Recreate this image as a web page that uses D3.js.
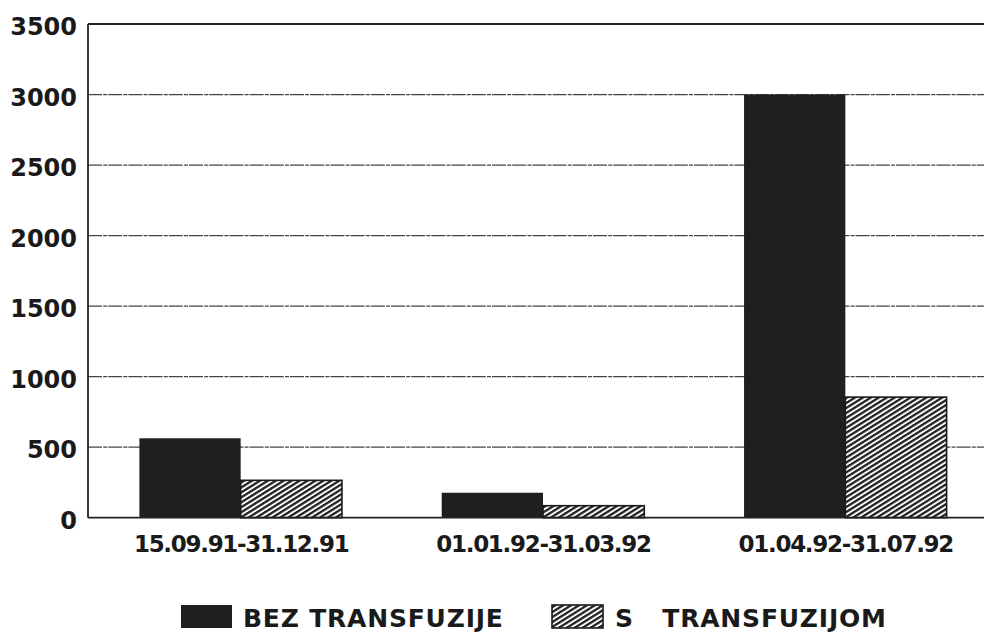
<!DOCTYPE html>
<html>
<head>
<meta charset="utf-8">
<script src="https://cdn.jsdelivr.net/npm/d3@7"></script>
<style>
  html, body { margin: 0; padding: 0; background: #fff; }
  svg { display: block; }
  text { font-family: "DejaVu Sans", "Liberation Sans", sans-serif; font-weight: bold; fill: #1a1a1a; }
</style>
</head>
<body>
<svg id="chart" width="984" height="633"></svg>
<script>
// ---- data ----
const categories = ["15.09.91-31.12.91", "01.01.92-31.03.92", "01.04.92-31.07.92"];
const seriesNames = ["BEZ TRANSFUZIJE", "S   TRANSFUZIJOM"];
const bezTransfuzije = [563, 177, 3000];
const sTransfuzijom = [265, 85, 855];
const yTicks = [0, 500, 1000, 1500, 2000, 2500, 3000, 3500];

const seriesValues = [bezTransfuzije, sTransfuzijom];

const svg = d3.select("#chart");

// hatch pattern
const defs = svg.append("defs");
const pat = defs.append("pattern")
  .attr("id", "hatch")
  .attr("patternUnits", "userSpaceOnUse")
  .attr("width", 10).attr("height", 4.2)
  .attr("patternTransform", "rotate(-32)");
pat.append("rect").attr("width", 10).attr("height", 4.2).attr("fill", "#fff");
pat.append("rect").attr("y", 0).attr("width", 10).attr("height", 2.3).attr("fill", "#222");

const plotLeft = 88, plotRight = 984, plotTop = 24, plotBottom = 517.7;

const y = d3.scaleLinear().domain([0, 3500]).range([plotBottom, plotTop]);
const x = d3.scaleBand().domain(categories).range([88, 998]).paddingInner(0.33).paddingOuter(0.17);
const xi = d3.scaleBand().domain([0, 1]).range([0, x.bandwidth()]).padding(0);

// gridlines
svg.append("g").selectAll("line")
  .data(yTicks.filter(t => t > 0 && t < 3500))
  .join("line")
  .attr("x1", plotLeft).attr("x2", plotRight)
  .attr("y1", d => y(d)).attr("y2", d => y(d))
  .attr("stroke", "#444").attr("stroke-width", 1.2)
  .attr("stroke-dasharray", "14,1.2,4,1");

// frame: top, left
svg.append("line").attr("x1", plotLeft).attr("x2", plotRight).attr("y1", y(3500)).attr("y2", y(3500))
  .attr("stroke", "#222").attr("stroke-width", 1.8);
svg.append("line").attr("x1", plotLeft).attr("x2", plotLeft).attr("y1", y(3500)).attr("y2", y(0))
  .attr("stroke", "#222").attr("stroke-width", 1.8);

// bars
const groups = svg.append("g").selectAll("g")
  .data(categories)
  .join("g")
  .attr("transform", d => `translate(${x(d)},0)`);

groups.selectAll("rect")
  .data((d, i) => seriesValues.map((vals, s) => ({ s, v: vals[i] })))
  .join("rect")
  .attr("x", d => xi(d.s))
  .attr("width", xi.bandwidth())
  .attr("y", d => y(d.v))
  .attr("height", d => y(0) - y(d.v))
  .attr("fill", d => d.s === 0 ? "#1f1f1f" : "url(#hatch)")
  .attr("stroke", d => d.s === 0 ? "none" : "#1a1a1a")
  .attr("stroke-width", 1.6);

// baseline on top
svg.append("line").attr("x1", plotLeft).attr("x2", plotRight).attr("y1", y(0)).attr("y2", y(0))
  .attr("stroke", "#222").attr("stroke-width", 1.8);

// y axis labels
svg.append("g").selectAll("text")
  .data(yTicks)
  .join("text")
  .attr("x", 77)
  .attr("y", d => y(d) + 11)
  .attr("text-anchor", "end")
  .attr("font-size", 24)
  .text(d => d);

// x axis labels
svg.append("g").selectAll("text")
  .data(categories)
  .join("text")
  .attr("x", d => x(d) + x.bandwidth() / 2 + 0.5)
  .attr("y", 552)
  .attr("text-anchor", "middle")
  .attr("font-size", 23)
  .attr("letter-spacing", "-1.3px")
  .text(d => d);

// legend
const legendPos = [{ bx: 181, tx: 243 }, { bx: 552, tx: 615 }];
const lg = svg.append("g").selectAll("g")
  .data(seriesNames)
  .join("g");
lg.append("rect")
  .attr("x", (d, i) => legendPos[i].bx)
  .attr("y", 605)
  .attr("width", 51)
  .attr("height", 23)
  .attr("fill", (d, i) => i === 0 ? "#1f1f1f" : "url(#hatch)")
  .attr("stroke", (d, i) => i === 0 ? "none" : "#1a1a1a")
  .attr("stroke-width", 1.6);
lg.append("text")
  .attr("x", (d, i) => legendPos[i].tx)
  .attr("y", 626.5)
  .attr("font-size", 25)
  .attr("letter-spacing", "0.8px")
  .style("white-space", "pre")
  .text(d => d);
</script>
</body>
</html>
